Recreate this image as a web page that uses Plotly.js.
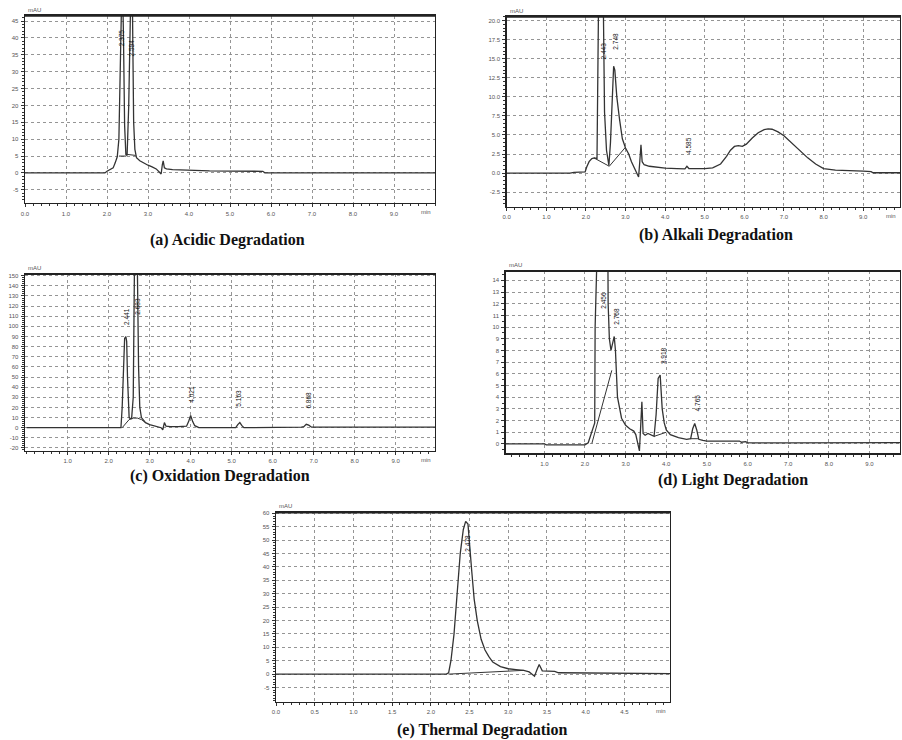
<!DOCTYPE html>
<html><head><meta charset="utf-8">
<script src="https://cdn.plot.ly/plotly-3.0.1.min.js"></script>
<style>html,body{margin:0;padding:0;background:#fff}#chart{width:902px;height:740px}</style>
</head><body><div id="chart"></div>
<script>
// ---------- (a) Acidic ----------
const acidTime   = [0,1.95,2.0,2.05,2.1,2.15,2.2,2.25,2.29,2.32,2.35,2.37,2.4,2.43,2.46,2.49,2.53,2.56,2.59,2.62,2.65,2.68,2.72,2.8,2.9,3.0,3.1,3.2,3.28,3.32,3.35,3.37,3.4,3.45,3.6,4.0,4.5,5.0,5.5,5.8,5.85,10.0];
const acidSignal = [0,0,0.5,0.8,1.0,1.5,3.0,4.8,10,28,45,60,42,14,5.5,5.2,20,50,60,50,15,7,4.5,3.6,2.9,2.3,1.8,1.2,0.2,-0.3,2.5,3.6,1.5,1.2,1.0,0.8,0.6,0.55,0.5,0.5,0.05,0.05];
const acidBaseTime   = [2.29,2.47,null,2.49,2.7];
const acidBaseSignal = [5,5,null,5.5,5.2];
const acidPeakRT  = [2.375,2.594];
const acidPeakLabelY = [40,37];
const acidXTicks = [0,1,2,3,4,5,6,7,8,9];
const acidXLabels = ["0.0","1.0","2.0","3.0","4.0","5.0","6.0","7.0","8.0","9.0"];
const acidYTicks = [-5,0,5,10,15,20,25,30,35,40,45];
const acidYLabels = ["-5","0","5","10","15","20","25","30","35","40","45"];

// ---------- (b) Alkali ----------
const alkTime   = [0,1.6,1.7,1.98,2.02,2.08,2.15,2.22,2.28,2.3,2.33,2.37,2.41,2.44,2.47,2.52,2.58,2.62,2.66,2.7,2.73,2.78,2.85,2.92,3.0,3.08,3.15,3.22,3.28,3.33,3.36,3.39,3.42,3.47,3.6,3.8,4.0,4.3,4.5,4.55,4.6,4.8,5.0,5.2,5.4,5.55,5.65,5.75,5.85,5.95,6.05,6.2,6.35,6.5,6.6,6.7,6.85,7.0,7.2,7.4,7.6,7.8,8.0,8.3,8.6,9.0,9.2,9.25,9.95];
const alkSignal = [0,0,0.1,0.15,0.8,1.5,1.9,2.0,1.9,10,28,30,30,22,8,3,1.0,4,10,14,13.5,10,7,4.5,3.3,2.5,1.5,0.8,0,-0.5,1.5,3.7,1.5,1.1,0.9,0.75,0.65,0.6,0.55,0.9,0.6,0.6,0.6,0.7,1.2,2.2,3.0,3.5,3.6,3.5,3.8,4.6,5.3,5.7,5.8,5.75,5.4,4.9,3.9,2.9,2.0,1.2,0.6,0.4,0.3,0.25,0.2,0.05,0.05];
const alkBaseTime   = [2.2,2.59,3.0];
const alkBaseSignal = [2.0,0.9,3.4];
const alkPeakRT = [2.443,2.748,4.585];
const alkPeakLabelY = [16,17.3,3.6];
const alkXTicks = [0,1,2,3,4,5,6,7,8,9];
const alkXLabels = ["0.0","1.0","2.0","3.0","4.0","5.0","6.0","7.0","8.0","9.0"];
const alkYTicks = [-2.5,0,2.5,5,7.5,10,12.5,15,17.5,20];
const alkYLabels = ["-2.5","0.0","2.5","5.0","7.5","10.0","12.5","15.0","17.5","20.0"];

// ---------- (c) Oxidation ----------
const oxTime   = [0,2.3,2.33,2.36,2.39,2.42,2.44,2.46,2.48,2.5,2.53,2.56,2.6,2.63,2.66,2.7,2.73,2.76,2.8,2.85,2.9,3.0,3.1,3.2,3.28,3.32,3.36,3.4,3.5,3.7,3.9,3.95,4.0,4.05,4.1,4.2,5.1,5.15,5.2,5.25,5.3,6.7,6.76,6.82,6.88,6.95,10];
const oxSignal = [0,0,20,60,88,90,85,50,20,10,9,9,30,160,170,160,60,20,10,7,5,3,2,1,0,-2,5,1.5,1,1,1.5,6,12,6,2,0,0,3,5,2,0,0.5,1,3.3,2.5,0.5,0.5];
const oxBaseTime   = [2.33,2.42,2.5,2.6,2.7,2.8,2.9];
const oxBaseSignal = [0,4,8,9.5,9.5,8,5];
const oxPeakRT = [2.441,2.683,4.021,5.163,6.868];
const oxPeakLabelY = [110,120,33,29,27];
const oxXTicks = [1,2,3,4,5,6,7,8,9];
const oxXLabels = ["1.0","2.0","3.0","4.0","5.0","6.0","7.0","8.0","9.0"];
const oxYTicks = [-20,-10,0,10,20,30,40,50,60,70,80,90,100,110,120,130,140,150];
const oxYLabels = ["-20","-10","0","10","20","30","40","50","60","70","80","90","100","110","120","130","140","150"];

// ---------- (d) Light ----------
const lightTime   = [0,1.0,1.05,2.0,2.08,2.13,2.18,2.24,2.25,2.27,2.3,2.4,2.5,2.55,2.57,2.6,2.64,2.68,2.72,2.75,2.8,2.9,3.0,3.1,3.2,3.25,3.3,3.34,3.37,3.4,3.43,3.48,3.55,3.62,3.7,3.75,3.8,3.85,3.9,3.95,4.0,4.1,4.3,4.5,4.6,4.65,4.7,4.75,4.8,4.9,5.0,5.5,5.8,5.85,5.95,6.0,6.1,7.0,8.0,8.2,8.3,9.8];
const lightSignal = [0,0,-0.08,-0.08,0.1,0.6,1.2,1.8,10,25,30,30,30,25,12,9,8,8.6,9.2,8,4,2.2,1.6,1.3,1.1,0.8,0,-0.6,1.5,3.6,0.9,0.75,0.9,0.75,0.65,2.5,5.6,5.9,3,1.8,1.2,0.8,0.55,0.4,0.45,1.3,1.75,1.2,0.4,0.3,0.25,0.25,0.25,0.15,0.2,0.12,0.1,0.1,0.1,0.07,0.12,0.12];
const lightBaseTime   = [2.17,2.66,null,3.7,4.0,null,4.6,4.78];
const lightBaseSignal = [0.05,6.3,null,0.65,1.0,null,0.45,0.45];
const lightPeakRT = [2.456,2.768,3.918,4.765];
const lightPeakLabelY = [12.3,10.9,7.6,3.5];
const lightXTicks = [0,1,2,3,4,5,6,7,8,9];
const lightXLabels = ["0.0","1.0","2.0","3.0","4.0","5.0","6.0","7.0","8.0","9.0"];
const lightYTicks = [0,1,2,3,4,5,6,7,8,9,10,11,12,13,14];
const lightYLabels = ["0","1","2","3","4","5","6","7","8","9","10","11","12","13","14"];

// ---------- (e) Thermal ----------
const thermTime   = [0,2.2,2.23,2.26,2.3,2.34,2.38,2.42,2.45,2.48,2.5,2.53,2.56,2.6,2.65,2.7,2.75,2.8,2.9,3.0,3.1,3.2,3.27,3.34,3.37,3.4,3.44,3.6,3.65,4.3,4.35,5.1];
const thermSignal = [0,0,0.5,5,15,30,45,54,57,56,48,38,28,20,13,9,6.5,4.5,2.8,2.0,1.7,1.4,0.8,-0.8,1.5,3.6,1.2,1.0,0.5,0.4,0.2,0.2];
const thermBaseTime   = [2.23,2.7,3.0,3.2];
const thermBaseSignal = [0,0.8,1.3,1.4];
const thermPeakRT = [2.478];
const thermPeakLabelY = [49];
const thermXTicks = [0,0.5,1,1.5,2,2.5,3,3.5,4,4.5];
const thermXLabels = ["0.0","0.5","1.0","1.5","2.0","2.5","3.0","3.5","4.0","4.5"];
const thermYTicks = [-5,0,5,10,15,20,25,30,35,40,45,50,55,60];
const thermYLabels = ["-5","0","5","10","15","20","25","30","35","40","45","50","55","60"];

const captions = ["(a) Acidic Degradation","(b) Alkali Degradation","(c) Oxidation Degradation","(d) Light Degradation","(e) Thermal Degradation"];

// ---------- layout geometry (pixels) ----------
const W = 902, H = 740;
const panels = [
  {t:acidTime, s:acidSignal, bt:acidBaseTime, bs:acidBaseSignal, rt:acidPeakRT, ly:acidPeakLabelY,
   xt:acidXTicks, xl:acidXLabels, yt:acidYTicks, yl:acidYLabels,
   box:[25,435,15.7,203], xr:[0,10], yr:[-8.9,46.6], xminor:0.2, yminor:1, minLabel:true, cap:[228,240]},
  {t:alkTime, s:alkSignal, bt:alkBaseTime, bs:alkBaseSignal, rt:alkPeakRT, ly:alkPeakLabelY,
   xt:alkXTicks, xl:alkXLabels, yt:alkYTicks, yl:alkYLabels,
   box:[506.7,900,16.7,206.7], xr:[0,9.93], yr:[-4.4,20.5], xminor:0.2, yminor:0.5, minLabel:true, cap:[716,235]},
  {t:oxTime, s:oxSignal, bt:oxBaseTime, bs:oxBaseSignal, rt:oxPeakRT, ly:oxPeakLabelY,
   xt:oxXTicks, xl:oxXLabels, yt:oxYTicks, yl:oxYLabels,
   box:[25,435,274,450.7], xr:[-0.04,9.96], yr:[-22.7,151.7], xminor:0.2, yminor:2, minLabel:true, cap:[220,476]},
  {t:lightTime, s:lightSignal, bt:lightBaseTime, bs:lightBaseSignal, rt:lightPeakRT, ly:lightPeakLabelY,
   xt:lightXTicks, xl:lightXLabels, yt:lightYTicks, yl:lightYLabels,
   box:[505.7,900,271,453.3], xr:[0.05,9.75], yr:[-0.8,14.8], xminor:0.2, yminor:0.5, minLabel:false, cap:[733,480]},
  {t:thermTime, s:thermSignal, bt:thermBaseTime, bs:thermBaseSignal, rt:thermPeakRT, ly:thermPeakLabelY,
   xt:thermXTicks, xl:thermXLabels, yt:thermYTicks, yl:thermYLabels,
   box:[276,670,512.3,701.7], xr:[0,5.09], yr:[-10.3,60.4], xminor:0.1, yminor:1, minLabel:true, cap:[482,730]}
];

const traces = [];
const annotations = [];
const shapes = [];
const layout = {
  width: W, height: H, margin:{l:0,r:0,t:0,b:0},
  paper_bgcolor:'#fff', plot_bgcolor:'#fff', showlegend:false,
  font:{family:'Liberation Sans, Arial, sans-serif', color:'#444'}
};
const lineCol = '#333';

panels.forEach((p,i)=>{
  const n = i===0 ? '' : String(i+1);
  const xa = 'x'+n, ya = 'y'+n;
  traces.push({x:p.t, y:p.s, xaxis:xa, yaxis:ya, type:'scatter', mode:'lines',
    line:{color:lineCol, width:1.3}, hoverinfo:'skip'});
  traces.push({x:p.bt, y:p.bs, xaxis:xa, yaxis:ya, type:'scatter', mode:'lines', connectgaps:false,
    line:{color:lineCol, width:1}, hoverinfo:'skip'});
  const [x0,x1,y0,y1] = p.box;
  const axisCommon = {
    tickmode:'array', showline:true, mirror:true, linecolor:'#222', linewidth:1.4,
    showgrid:true, gridcolor:'#8a8a8a', griddash:'3px,3px', gridwidth:0.9,
    zeroline:false, ticks:'outside', ticklen:3, tickcolor:'#333', tickwidth:1,
    tickfont:{size:6, color:'#555'}, ticklabelstandoff:1, fixedrange:true
  };
  layout['xaxis'+n] = Object.assign({}, axisCommon, {
    domain:[x0/W, x1/W], range:p.xr, anchor:ya, tickvals:p.xt, ticktext:p.xl,
    minor:{ticks:'outside', ticklen:2, dtick:p.xminor, tick0:0, tickcolor:'#333', showgrid:false}
  });
  layout['yaxis'+n] = Object.assign({}, axisCommon, {
    domain:[1-y1/H, 1-y0/H], range:p.yr, anchor:xa, tickvals:p.yt, ticktext:p.yl,
    minor:{ticks:'outside', ticklen:2, dtick:p.yminor, tick0:0, tickcolor:'#333', showgrid:false}
  });
  shapes.push({type:'line', xref:'paper', yref:'paper', x0:x0/W, x1:x1/W, y0:1-y0/H, y1:1-y0/H,
    line:{color:'#222', width:2.2}});
  annotations.push({xref:'paper', yref:'paper', x:(x0+1)/W, y:1-(y0-1)/H, xanchor:'left', yanchor:'bottom',
    text:'mAU', showarrow:false, font:{size:6, color:'#555'}});
  if (p.minLabel) {
    annotations.push({xref:'paper', yref:'paper', x:(x1-2)/W, y:1-(y1+4)/H, xanchor:'right', yanchor:'top',
      text:'min', showarrow:false, font:{size:6, color:'#555'}});
  }
  p.rt.forEach((rt,k)=>{
    annotations.push({xref:xa, yref:ya, x:rt, y:p.ly[k], text:rt.toFixed(3), textangle:-90,
      showarrow:false, font:{size:6.5, color:'#111'}, xanchor:'center', yanchor:'middle'});
  });
  annotations.push({xref:'paper', yref:'paper', x:p.cap[0]/W, y:1-p.cap[1]/H, xanchor:'center', yanchor:'middle',
    text:'<b>'+captions[i]+'</b>', showarrow:false,
    font:{family:'Liberation Serif, Times New Roman, serif', size:16, color:'#111'}});
});
layout.annotations = annotations;
layout.shapes = shapes;

Plotly.newPlot('chart', traces, layout, {staticPlot:true, displayModeBar:false});
</script></body></html>
